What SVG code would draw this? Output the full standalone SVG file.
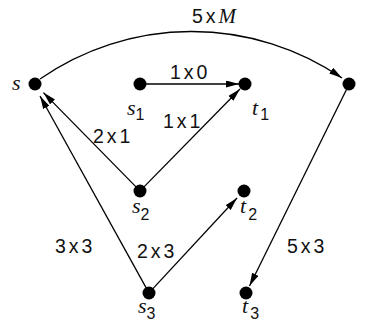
<svg xmlns="http://www.w3.org/2000/svg" width="367" height="331" viewBox="0 0 367 331">
<style>
.e{stroke:#000;stroke-width:1.3;fill:none;marker-end:url(#ah)}
.d{fill:#000}
.n{font-family:"Liberation Sans",Arial,sans-serif;font-size:19.5px;fill:#111;letter-spacing:3px}
.v{font-family:"Liberation Serif","Times New Roman",serif;font-style:italic;font-size:22px;fill:#111}
.sub{font-family:"Liberation Sans",Arial,sans-serif;font-style:normal;font-size:16px}
</style>
<defs>
<marker id="ah" markerUnits="userSpaceOnUse" markerWidth="14" markerHeight="8" refX="13" refY="3.5" orient="auto">
<path d="M0,0 L13,3.5 L0,7 Z" fill="#000"/>
</marker>
</defs>
<rect width="367" height="331" fill="#fff"/>
<g id="connectors">
<path class="e" d="M40,79 A266,266 0 0,1 342,78"/>
<path class="e" d="M146,84 L239,84"/>
<path class="e" d="M143.5,187.4 L240,89"/>
<path class="e" d="M136.5,187.4 L43.4,92.6"/>
<path class="e" d="M146.6,288.6 L40,96"/>
<path class="e" d="M152,289.6 L237,198"/>
<path class="e" d="M347,88.5 L249.5,286"/>
</g>
<g id="edge-labels">
<text class="n" x="192" y="23">5x<tspan class="v" style="font-size:21px;letter-spacing:0">M</tspan></text>
<text class="n" x="170" y="79">1x0</text>
<text class="n" x="163" y="128">1x1</text>
<text class="n" x="93" y="143">2x1</text>
<text class="n" x="55" y="253">3x3</text>
<text class="n" x="137" y="258">2x3</text>
<text class="n" x="287" y="253">5x3</text>
</g>
<g id="s"><circle class="d" cx="35" cy="84" r="6.5"/><text class="v" x="12" y="90">s</text></g>
<g id="s1"><circle class="d" cx="140" cy="84" r="6.5"/><text class="v" x="127" y="115">s<tspan class="sub" dy="5">1</tspan></text></g>
<g id="t1"><circle class="d" cx="245" cy="84" r="6.5"/><text class="v" x="252" y="115">t<tspan class="sub" dx="2" dy="5">1</tspan></text></g>
<g id="t"><circle class="d" cx="349" cy="84" r="6.5"/></g>
<g id="s2"><circle class="d" cx="140" cy="191" r="6.5"/><text class="v" x="132" y="213">s<tspan class="sub" dy="7">2</tspan></text></g>
<g id="t2"><circle class="d" cx="244" cy="191" r="6.5"/><text class="v" x="240" y="213">t<tspan class="sub" dx="2" dy="7">2</tspan></text></g>
<g id="s3"><circle class="d" cx="149" cy="293" r="6.5"/><text class="v" x="138" y="313">s<tspan class="sub" dy="6">3</tspan></text></g>
<g id="t3"><circle class="d" cx="246" cy="293" r="6.5"/><text class="v" x="242" y="313">t<tspan class="sub" dx="2" dy="6">3</tspan></text></g>
</svg>
